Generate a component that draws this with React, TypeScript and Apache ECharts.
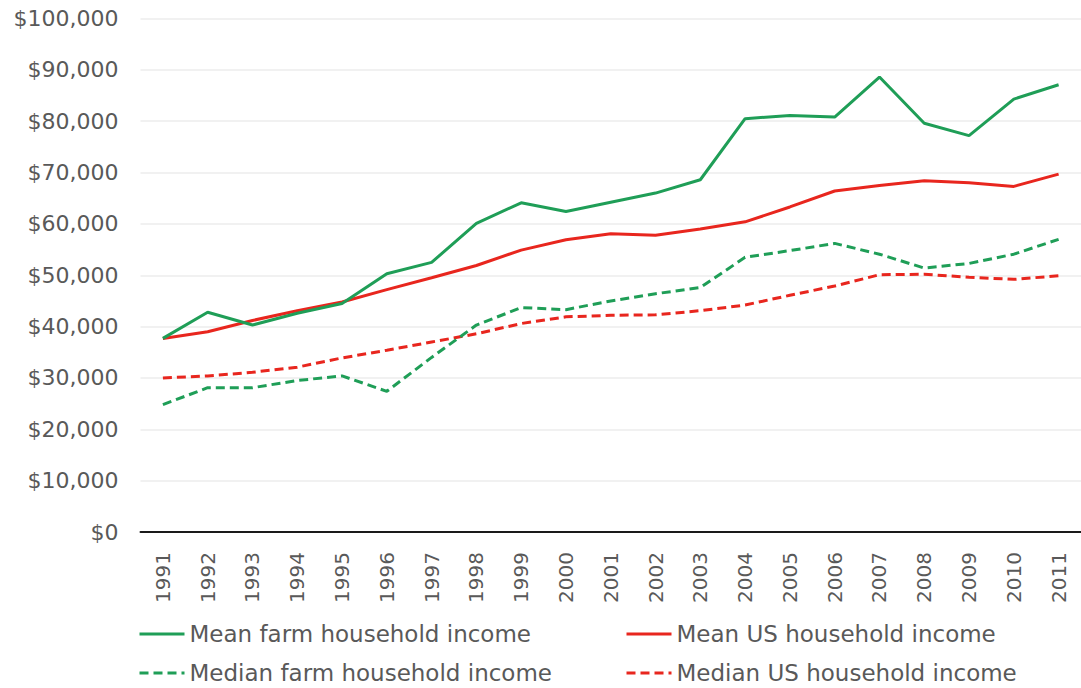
import React, { useEffect, useRef } from "react";
import * as echarts from "echarts";

const years = ["1991","1992","1993","1994","1995","1996","1997","1998","1999","2000","2001","2002","2003","2004","2005","2006","2007","2008","2009","2010","2011"];
const meanFarm = [37700, 42800, 40300, 42600, 44500, 50300, 52500, 60100, 64100, 62400, 64200, 66000, 68600, 80500, 81100, 80800, 88600, 79600, 77200, 84300, 87100];
const meanUS = [37700, 39000, 41200, 43100, 44800, 47200, 49500, 51900, 54900, 56900, 58100, 57800, 59000, 60400, 63300, 66400, 67500, 68400, 68000, 67300, 69700];
const medianFarm = [24800, 28100, 28100, 29500, 30400, 27400, 34000, 40300, 43700, 43300, 45000, 46400, 47600, 53500, 54800, 56200, 54100, 51400, 52300, 54100, 57000];
const medianUS = [30000, 30400, 31100, 32100, 33900, 35400, 37000, 38600, 40600, 41900, 42200, 42300, 43100, 44200, 46100, 47900, 50100, 50200, 49600, 49200, 49900];

const GREEN = "#1f9e57";
const RED = "#e8261e";
const FONT = "DejaVu Sans";
const TEXT = "#595959";

export default function App() {
  const ref = useRef<HTMLDivElement>(null);
  useEffect(() => {
    if (!ref.current) return;
    const chart = echarts.init(ref.current, null, { renderer: "svg" });
    const legendText = { color: TEXT, fontSize: 23, fontFamily: FONT, lineHeight: 24 };
    const legendBase = {
      orient: "vertical",
      top: 622,
      itemWidth: 45,
      itemHeight: 14,
      itemGap: 15,
      padding: 0,
      itemStyle: { opacity: 0 },
      lineStyle: { width: 3 },
      textStyle: legendText,
    };
    chart.setOption({
      animation: false,
      backgroundColor: "#ffffff",
      grid: { left: 140.5, right: -5.5, top: 18.5, bottom: 156, containLabel: false },
      legend: [
        { ...legendBase, data: ["Mean farm household income", "Median farm household income"], left: 138 },
        { ...legendBase, data: ["Mean US household income", "Median US household income"], left: 625 },
      ],
      xAxis: {
        type: "category",
        data: years,
        boundaryGap: true,
        axisTick: { show: false },
        axisLine: { show: true, lineStyle: { color: "#1a1a1a", width: 2 } },
        axisLabel: { rotate: 90, color: TEXT, fontSize: 20, fontFamily: FONT, margin: 20, interval: 0 },
        splitLine: { show: false },
      },
      yAxis: {
        type: "value",
        min: 0,
        max: 100000,
        interval: 10000,
        axisLine: { show: false },
        axisTick: { show: false },
        axisLabel: {
          color: TEXT,
          fontSize: 22,
          fontFamily: FONT,
          margin: 22,
          formatter: (v: number) => "$" + v.toLocaleString("en-US"),
        },
        splitLine: { lineStyle: { color: "#ececec", width: 1.5 } },
      },
      series: [
        { name: "Median US household income", type: "line", data: medianUS, symbol: "none", lineStyle: { color: RED, width: 3, type: [9, 5] }, itemStyle: { color: RED } },
        { name: "Median farm household income", type: "line", data: medianFarm, symbol: "none", lineStyle: { color: GREEN, width: 3, type: [9, 5] }, itemStyle: { color: GREEN } },
        { name: "Mean US household income", type: "line", data: meanUS, symbol: "none", lineStyle: { color: RED, width: 3 }, itemStyle: { color: RED } },
        { name: "Mean farm household income", type: "line", data: meanFarm, symbol: "none", lineStyle: { color: GREEN, width: 3 }, itemStyle: { color: GREEN } },
      ],
    });
    return () => chart.dispose();
  }, []);
  return <div ref={ref} style={{ position: "absolute", left: 0, top: 0, width: 1081, height: 688 }} />;
}
